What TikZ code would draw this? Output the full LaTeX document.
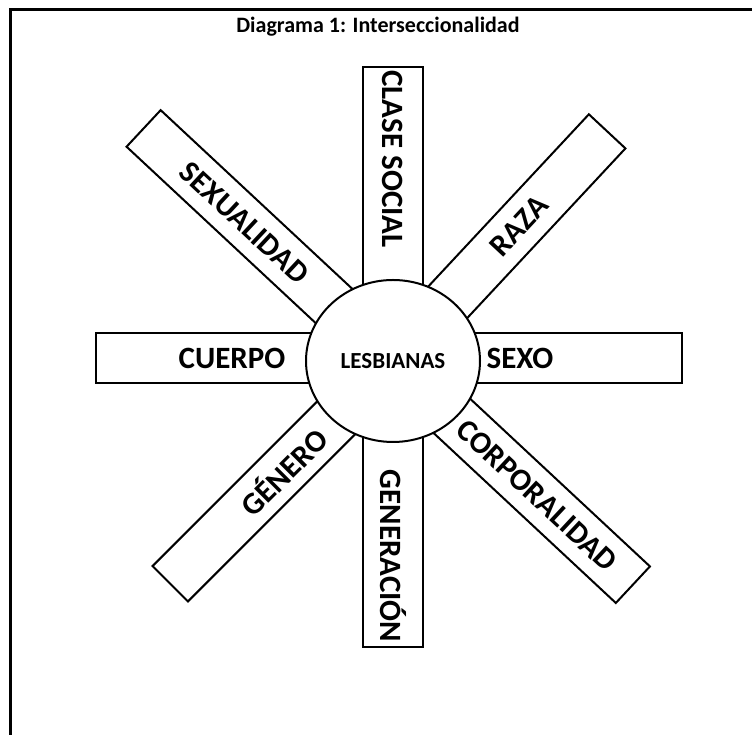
\documentclass[tikz,border=0pt]{standalone}
\usepackage{fontspec}
\setmainfont{Carlito}
\usetikzlibrary{shapes.geometric}

\begin{document}
\begin{tikzpicture}[x=1pt,y=1pt,
		bar/.style={draw, line width=2pt, fill=white, inner sep=0pt, minimum height=50pt},
		lbl/.style={font=\fontsize{31}{37}\selectfont\bfseries, inner sep=0pt},
		hub/.style={draw, ellipse, line width=2pt, fill=white, minimum width=174pt, minimum height=162pt,
			font=\fontsize{23}{28}\selectfont\bfseries}]
		\useasboundingbox (0,0) rectangle (752,735);
		\draw[line width=3pt] (10,-5) -- (10,725) -- (760,725);
		\node[font=\fontsize{22}{26}\selectfont\bfseries] (title) at (378,708) {Diagrama 1: Interseccionalidad};
		\coordinate (ctr) at (393,374);
		% spokes
		\path (ctr) ++(90:147) node[bar, rotate=90, minimum width=294pt, minimum height=60pt] (clase) {};
		\path (ctr) ++(-90:143) node[bar, rotate=-90, minimum width=286pt, minimum height=60pt] (gener) {};
		\path (ctr) ++(180:148.5) node[bar, yshift=3pt, minimum width=297pt] (cuerpo) {};
		\path (ctr) ++(0:144.5) node[bar, yshift=3pt, minimum width=289pt] (sexo) {};
		\path (ctr) ++(137:170.5) node[bar, rotate=137, minimum width=341pt] (sexual) {};
		\path (ctr) ++(47:157) node[bar, rotate=47, minimum width=314pt] (raza) {};
		\path (ctr) ++(-43:164) node[bar, rotate=-43, minimum width=328pt] (corpo) {};
		\path (ctr) ++(-135:157.5) node[bar, rotate=-135, minimum width=315pt] (genero) {};
		% texts
		\path (ctr) ++(90:202) node[lbl, rotate=-90] (tclase) {CLASE SOCIAL};
		\path (ctr) ++(-90:195) node[lbl, rotate=-90] (tgener) {GENERACIÓN};
		\path (ctr) ++(180:161) node[lbl, yshift=3pt] (tcuerpo) {CUERPO};
		\path (ctr) ++(0:127) node[lbl, yshift=3pt] (tsexo) {SEXO};
		\path (ctr) ++(137:203) node[lbl, rotate=-43] (tsexual) {SEXUALIDAD};
		\path (ctr) ++(47:185) node[lbl, rotate=47] (traza) {RAZA};
		\path (ctr) ++(-43:197) node[lbl, rotate=-43] (tcorpo) {CORPORALIDAD};
		\path (ctr) ++(-135:156) node[lbl, rotate=45] (tgenero) {GÉNERO};
		\node[hub] (lesb) at (ctr) {LESBIANAS};
		\end{tikzpicture}
\end{document}
